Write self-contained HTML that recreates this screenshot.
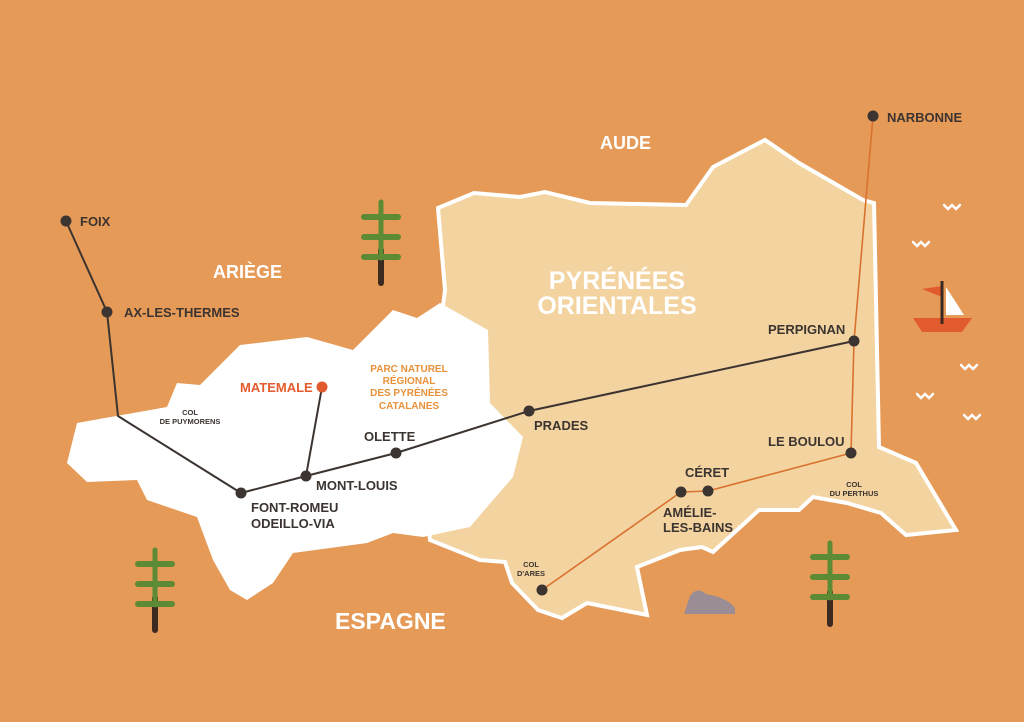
<!DOCTYPE html>
<html><head><meta charset="utf-8"><style>
html,body{margin:0;padding:0;background:#e69a57;}
svg{display:block;}
text{font-family:"Liberation Sans",sans-serif;font-weight:bold;}
</style></head><body>
<svg width="1024" height="722" viewBox="0 0 1024 722" xmlns="http://www.w3.org/2000/svg">
<rect width="1024" height="722" fill="#e69a57"/>
<!-- Pyrenees Orientales -->
<polygon points="438,208 474,193 520,197 545,192 590,203 686,205 713,167 765,140 799,163 863,200 874,203 879,447 916,463 956,530 906,535 881,513 847,503 813,497 799,510 759,510 713,552 702,547 680,550 637,567 647,615 587,603 562,618 538,610 512,583 505,562 480,560 430,540 420,450 440,330 445,290" fill="#f3d3a0" stroke="#fff" stroke-width="4" stroke-linejoin="miter"/>
<!-- Park (white) -->
<polygon points="77,423 167,407 177,383 200,385 240,345 307,337 353,350 393,310 417,318 440,303 488,330 490,403 523,437 513,477 487,507 470,527 423,537 393,533 367,543 293,553 273,583 247,600 230,590 213,560 197,517 147,500 137,480 87,482 67,463" fill="#fff"/>
<!-- black line -->
<polyline points="66,221 107,312 118,416 241,493 306,476 396,453 529,411 854,341" fill="none" stroke="#3c3430" stroke-width="2"/>
<line x1="322" y1="387" x2="306" y2="476" stroke="#3c3430" stroke-width="2"/>
<!-- orange line -->
<polyline points="873,116 854,341 851,453 708,491 681,492 542,590" fill="none" stroke="#d9722e" stroke-width="1.6"/>
<g fill="#3c3430">
<circle cx="66" cy="221" r="5.5"/><circle cx="107" cy="312" r="5.5"/><circle cx="241" cy="493" r="5.5"/>
<circle cx="306" cy="476" r="5.5"/><circle cx="396" cy="453" r="5.5"/><circle cx="529" cy="411" r="5.5"/>
<circle cx="854" cy="341" r="5.5"/><circle cx="873" cy="116" r="5.5"/><circle cx="851" cy="453" r="5.5"/>
<circle cx="708" cy="491" r="5.5"/><circle cx="681" cy="492" r="5.5"/><circle cx="542" cy="590" r="5.5"/>
</g>
<circle cx="322" cy="387" r="5.5" fill="#e25b2e"/>
<!-- trees -->
<g stroke-linecap="round">
<g><line x1="381" y1="250" x2="381" y2="283" stroke="#3c2a20" stroke-width="6"/><line x1="381" y1="202" x2="381" y2="258" stroke="#5d8a34" stroke-width="5"/><line x1="364" y1="217" x2="398" y2="217" stroke="#5d8a34" stroke-width="6"/><line x1="364" y1="237" x2="398" y2="237" stroke="#5d8a34" stroke-width="6"/><line x1="364" y1="257" x2="398" y2="257" stroke="#5d8a34" stroke-width="6"/></g>
<g><line x1="155" y1="598" x2="155" y2="630" stroke="#3c2a20" stroke-width="6"/><line x1="155" y1="550" x2="155" y2="605" stroke="#5d8a34" stroke-width="5"/><line x1="138" y1="564" x2="172" y2="564" stroke="#5d8a34" stroke-width="6"/><line x1="138" y1="584" x2="172" y2="584" stroke="#5d8a34" stroke-width="6"/><line x1="138" y1="604" x2="172" y2="604" stroke="#5d8a34" stroke-width="6"/></g>
<g><line x1="830" y1="592" x2="830" y2="624" stroke="#3c2a20" stroke-width="6"/><line x1="830" y1="543" x2="830" y2="598" stroke="#5d8a34" stroke-width="5"/><line x1="813" y1="557" x2="847" y2="557" stroke="#5d8a34" stroke-width="6"/><line x1="813" y1="577" x2="847" y2="577" stroke="#5d8a34" stroke-width="6"/><line x1="813" y1="597" x2="847" y2="597" stroke="#5d8a34" stroke-width="6"/></g>
</g>
<!-- rock -->
<path d="M684,614 L690,596 Q697,586 706,594 Q728,598 735,608 L735,614 Z" fill="#9b8d96"/>
<!-- boat -->
<polygon points="922,289 942,286 942,297" fill="#e25b2e"/>
<polygon points="946,287 964,315 946,315" fill="#fff"/>
<polygon points="913,318 972,318 962,332 922,332" fill="#e25b2e"/>
<line x1="942" y1="281" x2="942" y2="324" stroke="#3c2a20" stroke-width="3"/>
<!-- waves -->
<g fill="none" stroke="#fff" stroke-width="2.5" stroke-linecap="round">
<path d="M944,205 l4,4 l4,-4 l4,4 l4,-4"/>
<path d="M913,242 l4,4 l4,-4 l4,4 l4,-4"/>
<path d="M961,365 l4,4 l4,-4 l4,4 l4,-4"/>
<path d="M917,394 l4,4 l4,-4 l4,4 l4,-4"/>
<path d="M964,415 l4,4 l4,-4 l4,4 l4,-4"/>
</g>
<!-- region labels -->
<g fill="#fff">
<text x="600" y="149" font-size="18">AUDE</text>
<text x="213" y="278" font-size="18">ARIÈGE</text>
<text x="335" y="629" font-size="23">ESPAGNE</text>
<text x="617" y="289" font-size="25" text-anchor="middle">PYRÉNÉES</text>
<text x="617" y="314" font-size="25" text-anchor="middle">ORIENTALES</text>
</g>
<g fill="#3c3430" font-size="13">
<text x="80" y="226">FOIX</text>
<text x="124" y="317">AX-LES-THERMES</text>
<text x="251" y="512">FONT-ROMEU</text>
<text x="251" y="528">ODEILLO-VIA</text>
<text x="316" y="490">MONT-LOUIS</text>
<text x="364" y="441">OLETTE</text>
<text x="534" y="430">PRADES</text>
<text x="768" y="334">PERPIGNAN</text>
<text x="887" y="122">NARBONNE</text>
<text x="768" y="446">LE BOULOU</text>
<text x="685" y="477">CÉRET</text>
<text x="663" y="517">AMÉLIE-</text>
<text x="663" y="532">LES-BAINS</text>
</g>
<g fill="#3c3430" font-size="7.5" text-anchor="middle">
<text x="190" y="415">COL</text><text x="190" y="424">DE PUYMORENS</text>
<text x="531" y="567">COL</text><text x="531" y="576">D'ARES</text>
<text x="854" y="487">COL</text><text x="854" y="496">DU PERTHUS</text>
</g>
<text x="240" y="392" font-size="13" fill="#e25b2e">MATEMALE</text>
<g fill="#e8913a" font-size="10" text-anchor="middle">
<text x="409" y="372">PARC NATUREL</text>
<text x="409" y="384">RÉGIONAL</text>
<text x="409" y="396">DES PYRÉNÉES</text>
<text x="409" y="409">CATALANES</text>
</g>
</svg>
</body></html>
